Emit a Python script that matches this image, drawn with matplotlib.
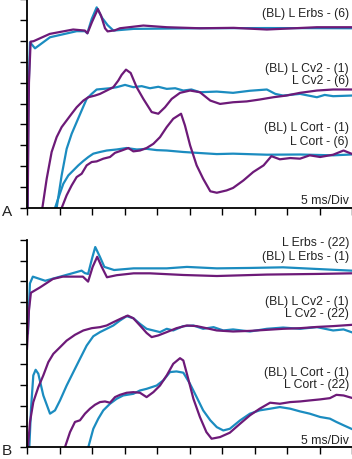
import matplotlib
matplotlib.use("Agg")
import matplotlib.pyplot as plt

# COLOURS
cyan = "#1b8cc0"
purple = "#6d1a78"

# PANEL A  (x in ms, y in divisions)
a_erbs_c_x = [0.1, 0.2, 0.46, 1.23, 3.54, 7.64, 8.92, 9.28, 9.95, 10.72, 11.5, 12.4, 13.3, 16.4, 26.6, 36.9, 49.9]
a_erbs_c_y = [0.0, 5.2, 7.93, 7.64, 8.17, 8.46, 8.46, 8.36, 9.04, 9.60, 9.12, 8.75, 8.49, 8.57, 8.60, 8.61, 8.60]
a_erbs_p_x = [0.1, 0.3, 0.56, 1.0, 3.5, 7.1, 8.9, 9.3, 10.0, 10.9, 11.4, 12.0, 12.4, 13.5, 14.3, 17.9, 21.5, 26.6,
              31.8, 36.9, 44.6, 49.9]
a_erbs_p_y = [0.0, 6.0, 7.96, 7.98, 8.33, 8.54, 8.49, 8.36, 8.9, 9.52, 9.2, 8.6, 8.45, 8.5, 8.6, 8.73, 8.65, 8.6,
              8.62, 8.54, 8.65, 8.65]

a_cv2_c_x = [4.56, 5.33, 6.1, 6.87, 7.64, 8.41, 9.18, 9.95, 10.72, 11.74, 12.77, 13.8, 15.08, 16.36, 17.64, 18.92, 20.2,
             21.5, 22.8, 24.05, 25.3, 26.6, 29.2, 31.7, 34.3, 36.9, 38.2, 39.4, 42.0, 44.6, 45.8, 47.1, 49.9]
a_cv2_c_y = [0.0, 1.56, 2.83, 3.55, 4.11, 4.67, 5.22, 5.46, 5.67, 5.70, 5.73, 5.78, 5.89, 5.78, 5.83, 5.73, 5.80,
             5.70, 5.73, 5.62, 5.67, 5.54, 5.57, 5.51, 5.61, 5.67, 5.46, 5.38, 5.46, 5.30, 5.41, 5.35, 5.38]
a_cv2_p_x = [2.36, 3.03, 3.79, 4.56, 5.33, 6.1, 6.87, 7.64, 8.67, 9.44, 10.46, 11.23, 12.26, 13.28, 14.05, 14.56, 15.23,
             15.95, 16.87, 17.9, 19.18, 20.2, 21.23, 22.26, 23.54, 25.08, 26.6, 28.2, 29.7, 31.7, 33.8, 35.8, 37.9,
             39.9, 42.0, 44.6, 47.1, 49.9]
a_cv2_p_y = [0.0, 1.40, 2.68, 3.39, 3.87, 4.19, 4.51, 4.82, 5.14, 5.30, 5.38, 5.46, 5.62, 5.78, 6.10, 6.37, 6.62,
             6.46, 5.78, 5.22, 4.59, 4.51, 4.82, 5.22, 5.51, 5.62, 5.54, 5.14, 4.98, 5.06, 5.10, 5.19, 5.30,
             5.38, 5.51, 5.62, 5.67, 5.67]

a_cort_c_x = [4.31, 4.97, 5.59, 6.36, 7.13, 7.9, 8.67, 9.44, 10.2, 11.23, 12.26, 13.8, 15.3, 16.9, 18.4, 19.95, 21.5,
              24.05, 26.6, 29.2, 31.7, 36.9, 42.0, 47.1, 49.9]
a_cort_c_y = [0.0, 0.61, 1.16, 1.56, 1.80, 2.04, 2.25, 2.44, 2.60, 2.68, 2.75, 2.80, 2.87, 2.80, 2.83, 2.77, 2.75,
              2.68, 2.63, 2.58, 2.60, 2.55, 2.56, 2.52, 2.56]
a_cort_p_x = [5.33, 6.1, 6.87, 7.64, 8.41, 9.18, 9.95, 10.72, 11.74, 12.77, 13.54, 14.56, 15.59, 16.36, 17.38, 18.4,
              19.44, 20.46, 21.49, 22.5, 23.7, 24.3, 25.1, 26.1, 27.1, 28.2, 29.2, 30.7, 31.7, 33.3, 34.8, 36.4,
              37.6, 38.9, 40.5, 42.0, 43.5, 45.1, 47.1, 48.7, 49.9]
a_cort_p_y = [0.0, 0.61, 1.08, 1.48, 1.64, 2.04, 2.20, 2.23, 2.36, 2.44, 2.64, 2.75, 2.87, 2.71, 2.75, 2.87,
              3.07, 3.39, 3.87, 4.27, 4.51, 3.95, 2.99, 2.04, 1.40, 0.80, 0.73, 0.84, 0.96, 1.32, 1.72, 2.04,
              2.48, 2.33, 2.39, 2.36, 2.52, 2.44, 2.55, 2.75, 2.60]

# PANEL B
b_erbs_c_x = [0.15, 0.45, 0.9, 2.8, 6.6, 8.4, 8.9, 9.4, 10.0, 10.5, 11.2, 11.9, 13.4, 16.4, 21.5,
              24.6, 29.2, 34.3, 39.4, 44.6, 49.9]
b_erbs_c_y = [5.5, 7.9, 8.23, 8.03, 8.36, 8.52, 8.40, 8.36, 9.1, 9.66, 9.2, 8.70, 8.55, 8.63, 8.63,
              8.70, 8.63, 8.65, 8.68, 8.60, 8.52]
b_erbs_p_x = [0.0, 0.3, 0.6, 2.0, 4.0, 5.5, 8.6, 9.4, 10.1, 10.8, 11.5, 12.3, 13.8, 16.4, 18.9, 24.05, 29.2,
              36.9, 44.6, 49.9]
b_erbs_p_y = [4.74, 6.6, 7.45, 7.71, 8.12, 8.23, 8.23, 7.99, 8.7, 9.19, 8.7, 8.2, 8.3, 8.39, 8.39, 8.31, 8.26,
              8.33, 8.36, 8.39]

b_cv2_c_x = [0.36, 0.62, 0.97, 1.33, 1.74, 2.51, 3.54, 4.31, 5.08, 6.1, 7.13, 8.15, 9.18, 10.2, 11.23, 12.26, 13.28,
             14.3, 15.33, 16.36, 17.38, 18.4, 19.44, 20.46, 21.5, 22.5, 24.05, 25.6, 27.1, 28.7, 30.2, 31.7, 34.3,
             36.9, 39.4, 42.0, 44.6, 47.1, 48.7, 49.9]
b_cv2_c_y = [0.0, 1.85, 3.46, 3.73, 3.54, 2.49, 1.61, 1.77, 2.25, 2.97, 3.62, 4.26, 4.90, 5.35, 5.55, 5.71, 5.87,
             6.11, 6.32, 6.22, 5.95, 5.71, 5.63, 5.55, 5.71, 5.63, 5.84, 5.87, 5.71, 5.79, 5.63, 5.68, 5.58,
             5.71, 5.77, 5.71, 5.79, 5.63, 5.68, 5.55]
b_cv2_p_x = [0.15, 0.46, 0.97, 1.74, 2.51, 3.28, 4.05, 5.08, 6.1, 7.38, 8.67, 9.95, 11.23, 12.26, 13.28, 14.56, 15.49,
             16.36, 17.38, 18.4, 19.18, 20.2, 21.5, 23.0, 24.6, 26.1, 27.6, 29.2, 31.7, 34.3, 36.9, 39.4, 42.0,
             44.6, 47.1, 49.9]
b_cv2_p_y = [0.0, 1.21, 2.17, 2.89, 3.46, 4.10, 4.50, 4.82, 5.14, 5.42, 5.63, 5.74, 5.79, 5.87, 6.03, 6.22, 6.35,
             6.22, 5.87, 5.51, 5.31, 5.39, 5.55, 5.74, 5.87, 5.84, 5.74, 5.63, 5.58, 5.61, 5.66, 5.71, 5.74,
             5.80, 5.84, 5.90]

b_cort_c_x = [9.44, 10.2, 10.97, 11.74, 12.77, 13.8, 14.8, 16.36, 17.38, 18.4, 19.95, 20.97, 22.0, 23.0, 24.05,
              25.08, 26.1, 27.1, 28.2, 29.2, 30.2, 31.2, 32.8, 34.3, 35.8, 37.4, 38.9, 40.5, 42.0, 43.5, 45.1,
              46.6, 47.6, 48.7, 49.9]
b_cort_c_y = [0.0, 0.88, 1.37, 1.77, 2.09, 2.33, 2.49, 2.57, 2.73, 2.81, 2.97, 3.22, 3.62, 3.65, 3.59,
              3.05, 2.41, 1.77, 1.29, 0.96, 0.80, 0.88, 1.29, 1.61, 1.77, 1.85, 1.93, 1.85, 1.72, 1.61, 1.45,
              1.37, 1.21, 1.05, 0.88]
b_cort_p_x = [5.85, 6.62, 7.38, 8.15, 8.92, 9.69, 10.46, 11.23, 12.0, 12.77, 13.54, 14.3, 15.33, 16.36, 17.38, 18.4,
              19.44, 20.46, 21.5, 22.5, 23.54, 24.05, 24.8, 25.6, 26.6, 27.6, 28.4, 29.7, 31.2, 32.8, 34.3, 35.8,
              37.4, 38.9, 40.5, 42.0, 43.5, 45.1, 46.6, 47.6, 48.7, 49.9]
b_cort_p_y = [0.0, 0.72, 1.21, 1.29, 1.61, 1.85, 2.04, 2.17, 2.20, 2.14, 2.41, 2.52, 2.62, 2.65, 2.62, 2.41,
              2.65, 2.97, 3.46, 4.02, 4.29, 4.18, 3.30, 2.33, 1.45, 0.72, 0.40, 0.48, 0.69, 1.13, 1.53, 1.85,
              2.14, 2.09, 2.17, 2.20, 2.25, 2.30, 2.36, 2.52, 2.49, 2.38]

# LABELS
a_labels = [("(BL) L Erbs - (6)", 14), ("(BL) L Cv2 - (1)", 69), ("L Cv2 - (6)", 81),
            ("(BL) L Cort - (1)", 128), ("L Cort - (6)", 142), ("5 ms/Div", 201)]
b_labels = [("L Erbs - (22)", 243), ("(BL) L Erbs - (1)", 257), ("(BL) L Cv2 - (1)", 302),
            ("L Cv2 - (22)", 314), ("(BL) L Cort - (1)", 373), ("L Cort - (22)", 385), ("5 ms/Div", 441)]

plt.rcParams['font.family'] = ['Liberation Sans', 'DejaVu Sans']

W, H = 352, 460
fig = plt.figure(figsize=(W / 100, H / 100), dpi=100)

ax_a = fig.add_axes([27 / W, (H - 209) / H, 325 / W, 209 / H])
ax_b = fig.add_axes([27 / W, (H - 448) / H, 325 / W, 207 / H])

panel_a = [(a_erbs_c_x, a_erbs_c_y, a_erbs_p_x, a_erbs_p_y),
           (a_cv2_c_x, a_cv2_c_y, a_cv2_p_x, a_cv2_p_y),
           (a_cort_c_x, a_cort_c_y, a_cort_p_x, a_cort_p_y)]
panel_b = [(b_erbs_c_x, b_erbs_c_y, b_erbs_p_x, b_erbs_p_y),
           (b_cv2_c_x, b_cv2_c_y, b_cv2_p_x, b_cv2_p_y),
           (b_cort_c_x, b_cort_c_y, b_cort_p_x, b_cort_p_y)]

for ax, curves in [(ax_a, panel_a), (ax_b, panel_b)]:
    for cx, cy, px, py in curves:
        ax.plot(cx, cy, color=cyan, lw=1.6, solid_joinstyle="round")
        ax.plot(px, py, color=purple, lw=1.6, solid_joinstyle="round")
    ax.set_xlim(0, 50)
    ax.set_ylim(0, 10)
    ax.set_xticks(range(0, 51, 5))
    ax.set_yticks(range(0, 11))
    ax.set_xticklabels([])
    ax.set_yticklabels([])
    ax.tick_params(direction="out", length=5, width=1.0, color="black")
    for s in ["top", "right"]:
        ax.spines[s].set_visible(False)
    for s in ["left", "bottom"]:
        ax.spines[s].set_linewidth(1.3)
    ax.patch.set_alpha(0)

for txt, py in a_labels + b_labels:
    fig.text(349 / W, 1 - py / H, txt, ha="right", va="center", fontsize=8.8, color="#222222")

fig.text(2 / W, 1 - 212 / H, "A", ha="left", va="center", fontsize=11, color="#222222")
fig.text(2 / W, 1 - 451 / H, "B", ha="left", va="center", fontsize=11, color="#222222")

fig.savefig("out.png", dpi=100)
